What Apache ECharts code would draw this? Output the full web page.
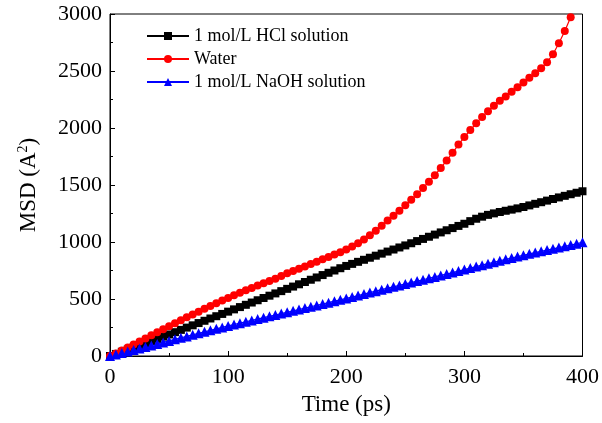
<!DOCTYPE html>
<html>
<head>
<meta charset="utf-8">
<script src="https://cdn.jsdelivr.net/npm/echarts@6/dist/echarts.min.js"></script>
<style>html,body{margin:0;padding:0;background:#fff;}#c{width:602px;height:423px;}</style>
</head>
<body>
<div id="c"></div>
<script>
var seriesNames = ['1 mol/L HCl solution', 'Water', '1 mol/L NaOH solution'];
var timeHCl = [0,5,10,15,20,25,30,35,40,45,50,55,60,65,70,75,80,85,90,95,100,105,110,115,120,125,130,135,140,145,150,155,160,165,170,175,180,185,190,195,200,205,210,215,220,225,230,235,240,245,250,255,260,265,270,275,280,285,290,295,300,305,310,315,320,325,330,335,340,345,350,355,360,365,370,375,380,385,390,395,400];
var msdHCl = [0,18,37,56,75,94,113,132,151,170,189,209,229,249,269,289,309,329,349,369,389,409,429,449,469,489,509,529,549,569,589,609,629,649,669,689,710,730,750,770,790,808,826,844,862,880,898,916,934,952,970,989,1008,1027,1046,1065,1084,1103,1122,1141,1160,1183,1204,1222,1238,1251,1263,1274,1284,1295,1307,1321,1335,1349,1363,1377,1391,1405,1419,1432,1445];
var timeWater = [0,5,10,15,20,25,30,35,40,45,50,55,60,65,70,75,80,85,90,95,100,105,110,115,120,125,130,135,140,145,150,155,160,165,170,175,180,185,190,195,200,205,210,215,220,225,230,235,240,245,250,255,260,265,270,275,280,285,290,295,300,305,310,315,320,325,330,335,340,345,350,355,360,365,370,375,380,385,390];
var msdWater = [0,22,48,74,100,127,154,181,208,235,261,287,313,339,364,389,414,438,462,486,509,532,554,576,597,618,638,658,678,701,725,745,765,785,806,827,848,869,890,911,934,960,989,1023,1059,1099,1142,1188,1231,1275,1322,1371,1419,1474,1529,1586,1649,1716,1782,1855,1920,1982,2041,2097,2148,2196,2239,2276,2318,2357,2400,2441,2480,2524,2577,2647,2743,2851,2971];
var timeNaOH = [0,5,10,15,20,25,30,35,40,45,50,55,60,65,70,75,80,85,90,95,100,105,110,115,120,125,130,135,140,145,150,155,160,165,170,175,180,185,190,195,200,205,210,215,220,225,230,235,240,245,250,255,260,265,270,275,280,285,290,295,300,305,310,315,320,325,330,335,340,345,350,355,360,365,370,375,380,385,390,395,400];
var msdNaOH = [0,13,26,40,53,66,80,93,106,119,132,146,159,172,186,199,212,225,238,251,264,276,288,300,312,324,336,348,360,372,384,396,408,420,432,444,456,468,481,493,505,517,530,543,556,569,582,595,607,619,632,644,657,669,682,694,707,719,732,745,758,771,784,797,810,822,835,848,860,872,884,896,907,918,929,940,951,962,973,985,998];
var xTicks = [0,100,200,300,400];
var yTicks = [0,500,1000,1500,2000,2500,3000];

function pairs(xs, ys){ return xs.map(function(x,i){ return [x, ys[i]]; }); }

var font = 'Liberation Serif';
var chart = echarts.init(document.getElementById('c'), null, {renderer:'canvas'});
chart.setOption({
  animation: false,
  backgroundColor: '#fff',
  grid: {left:110, right:17, top:14, bottom:67, show:true, borderColor:'#000', borderWidth:1, backgroundColor:'transparent'},
  legend: {
    orient:'vertical', left:141, top:22, itemWidth:42, itemHeight:10, itemGap:5,
    textStyle:{fontFamily:font, fontSize:18, color:'#000', lineHeight:18},
    data: seriesNames
  },
  xAxis: {
    type:'value', min:xTicks[0], max:xTicks[xTicks.length-1], interval:100,
    name:'Time (ps)', nameLocation:'middle', nameGap:37,
    nameTextStyle:{fontFamily:font, fontSize:23, color:'#000'},
    axisLine:{show:true, onZero:false, lineStyle:{color:'#000', width:1}},
    axisTick:{show:true, inside:true, length:5, lineStyle:{color:'#000'}},
    minorTick:{show:true, splitNumber:2, length:3, lineStyle:{color:'#000'}},
    axisLabel:{fontFamily:font, fontSize:22, color:'#000', margin:10, formatter:function(v){return String(v);}},
    splitLine:{show:false}
  },
  yAxis: {
    type:'value', min:yTicks[0], max:yTicks[yTicks.length-1], interval:500,
    name:'MSD (A{s|2})', nameLocation:'middle', nameGap:68, nameRotate:90,
    nameTextStyle:{fontFamily:font, fontSize:23, color:'#000', lineHeight:26,
      rich:{s:{fontFamily:font, fontSize:14, color:'#000', verticalAlign:'top', lineHeight:26}}},
    axisLine:{show:true, onZero:false, lineStyle:{color:'#000', width:1}},
    axisTick:{show:true, inside:true, length:5, lineStyle:{color:'#000'}},
    minorTick:{show:true, splitNumber:2, length:3, lineStyle:{color:'#000'}},
    axisLabel:{fontFamily:font, fontSize:22, color:'#000', margin:8, formatter:function(v){return String(v);}},
    splitLine:{show:false}
  },
  series: [
    {name:seriesNames[0], type:'line', data:pairs(timeHCl, msdHCl), symbol:'rect', symbolSize:8,
     color:'#000', lineStyle:{width:1.2, color:'#000'}, itemStyle:{color:'#000'}},
    {name:seriesNames[1], type:'line', data:pairs(timeWater, msdWater), symbol:'circle', symbolSize:8,
     color:'#ff0000', lineStyle:{width:1.2, color:'#ff0000'}, itemStyle:{color:'#ff0000'}},
    {name:seriesNames[2], type:'line', data:pairs(timeNaOH, msdNaOH), symbol:'triangle', symbolSize:10,
     color:'#0000ff', lineStyle:{width:1.2, color:'#0000ff'}, itemStyle:{color:'#0000ff'}}
  ]
});
</script>
</body>
</html>
